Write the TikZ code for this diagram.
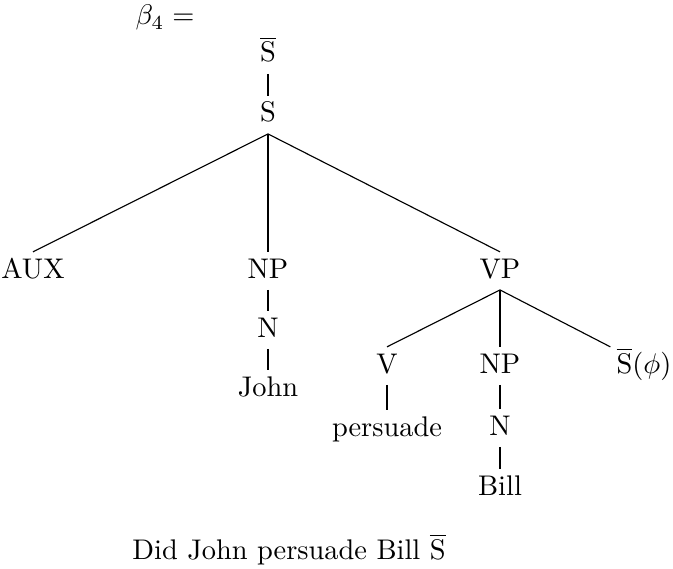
\documentclass[tikz,border=0pt]{standalone}
\usetikzlibrary{calc}
\tikzset{lab/.style={anchor=base, inner sep=2pt, text height=7pt, text depth=2pt}}

\begin{document}
\begin{tikzpicture}[x=0.352pt, y=-0.352pt]
\useasboundingbox (0,0) rectangle (673,568);

\node[anchor=base] (beta) at (165,25) {$\beta_4 =$};

\node[lab] (sbar) at (268,62) {$\overline{\mathrm{S}}$};
\node[lab] (s) at (268,122) {S};

\node[lab] (aux) at (33,278) {AUX};
\node[lab] (np) at (268,278) {NP};
\node[lab] (vp) at (500,278) {VP};

\node[lab] (n) at (268,337) {N};
\node[lab] (john) at (268,396) {John};

\node[lab] (v) at (387,373) {V};
\node[lab] (npb) at (500,373) {NP};
\node[lab] (sphi) at (644,373) {$\overline{\mathrm{S}}(\phi)$};

\node[lab] (pers) at (387,436) {persuade};
\node[lab] (nb) at (500,435) {N};
\node[lab] (bill) at (500,495) {Bill};

\draw (sbar.south) -- (s.north);
\draw (s.south) -- (aux.north);
\draw (s.south) -- (np.north);
\draw (s.south) -- (vp.north);
\draw (np.south) -- (n.north);
\draw (n.south) -- (john.north);
\draw (vp.south) -- (v.north);
\draw (vp.south) -- (npb.north);
\draw (vp.south) -- (sphi.north west);
\draw (v.south) -- (pers.north);
\draw (npb.south) -- (nb.north);
\draw (nb.south) -- (bill.north);

\node[anchor=base] (cap) at (289,559) {Did John persuade Bill $\overline{\mathrm{S}}$};

\end{tikzpicture}
\end{document}
